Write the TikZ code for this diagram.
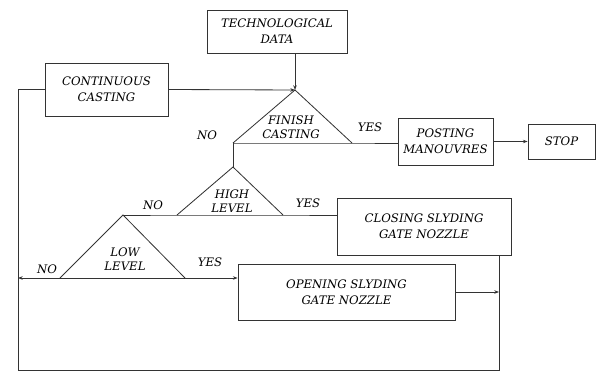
\documentclass[tikz,border=0pt]{standalone}
\usepackage{fontspec}
\setmainfont{DejaVu Serif}
\usetikzlibrary{arrows.meta,positioning,calc}

\begin{document}
\begin{tikzpicture}[
      x=0.03cm,y=-0.03cm,
      font=\fontsize{10}{13.5}\selectfont\itshape,
      box/.style={draw,align=center,line width=0.7pt,draw=black!80},
      lbl/.style={inner sep=1pt},
      ln/.style={line width=0.7pt,draw=black!80},
      arr/.style={ln,-{Stealth[length=4pt,width=3pt]}}
    ]
      \useasboundingbox (0,0) rectangle (596,373);
      % boxes
      \node[box,minimum width=4.2cm,minimum height=1.29cm] (tech) at (277,31.5) {TECHNOLOGICAL\\DATA};
      \node[box,minimum width=3.69cm,minimum height=1.59cm] (cast) at (106.5,89.5) {CONTINUOUS\\CASTING};
      \node[box,minimum width=2.85cm,minimum height=1.41cm] (post) at (445.5,141.5) {POSTING\\MANOUVRES};
      \node[box,minimum width=2.01cm,minimum height=1.05cm] (stop) at (561.5,141.5) {STOP};
      \node[box,minimum width=5.22cm,minimum height=1.71cm] (close) at (424,226.5) {CLOSING SLYDING\\GATE NOZZLE};
      \node[box,minimum width=6.51cm,minimum height=1.68cm] (open) at (346.5,292) {OPENING SLYDING\\GATE NOZZLE};
      % decision triangles
      \coordinate (fin-top) at (295,90);
      \coordinate (fin-l) at (233,143);
      \coordinate (fin-r) at (352,143);
      \coordinate (high-top) at (233,167);
      \coordinate (high-l) at (177,215);
      \coordinate (high-r) at (283,215);
      \coordinate (low-top) at (123,215);
      \coordinate (low-l) at (60,278);
      \coordinate (low-r) at (185,278);
      \coordinate (loop-r) at (499,370);
      \coordinate (loop-l) at (18,370);
      \draw[ln] (fin-l) -- (fin-top) -- (fin-r);
      \draw[ln] (high-l) -- (high-top) -- (high-r);
      \draw[ln] (low-l) -- (low-top) -- (low-r);
      \node[align=center] (fin) at (291,127) {FINISH\\[-2pt]CASTING};
      \node[align=center] (high) at (232,201) {HIGH\\[-2pt]LEVEL};
      \node[align=center] (low) at (125,259) {LOW\\[-2pt]LEVEL};
      % yes / no labels
      \node[lbl] (fin-no) at (207,135) {NO};
      \node[lbl] (fin-yes) at (370,127) {YES};
      \node[lbl] (high-no) at (153,205) {NO};
      \node[lbl] (high-yes) at (308,203) {YES};
      \node[lbl] (low-no) at (47,269) {NO};
      \node[lbl] (low-yes) at (210,262) {YES};
      % connectors
      \draw[arr] (fin-top |- tech.south) -- (fin-top);
      \draw[arr] (cast.east) -- (fin-top);
      \draw[ln] (fin-l) -- (fin-r) -- (post.west |- fin-r);
      \draw[arr] (post) -- (stop);
      \draw[ln] (fin-l) -- (high-top);
      \draw[ln] (low-top) -- (high-l) -- (high-r) -- (high-r -| close.west);
      \draw[arr] (low-r) -- (low-r -| open.west);
      \draw[ln] (low-l) -- (low-r);
      \draw[arr] (low-l) -- (low-l -| loop-l);
      \draw[arr] (open.east) -- (open.east -| loop-r);
      \draw[ln] (close.south -| loop-r) -- (loop-r) -- (loop-l) |- (cast.west);
    \end{tikzpicture}
\end{document}
